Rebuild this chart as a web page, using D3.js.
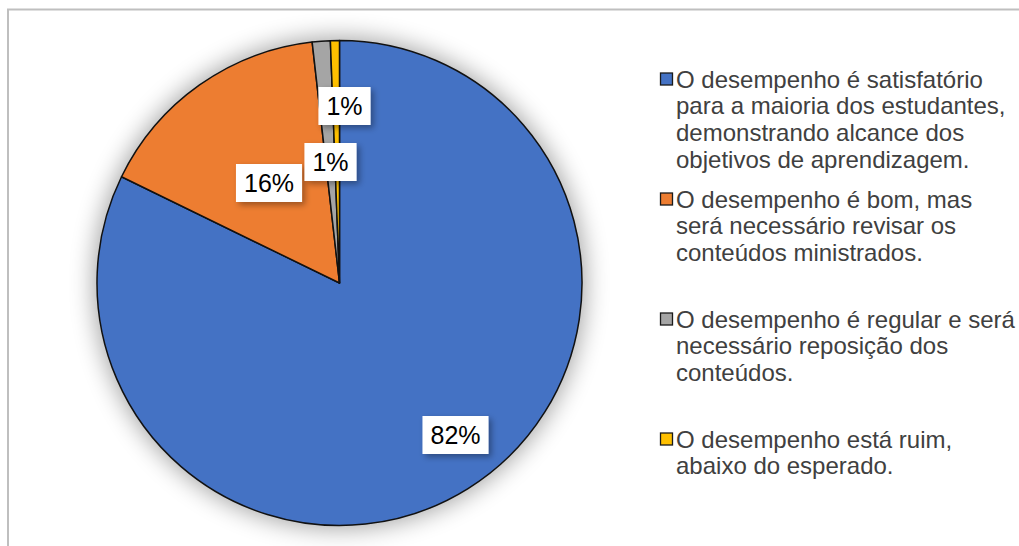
<!DOCTYPE html>
<html><head><meta charset="utf-8">
<script src="https://cdn.jsdelivr.net/npm/d3@7"></script>
<style>html,body{margin:0;padding:0;background:#fff;}svg{display:block;}</style>
</head><body>
<svg id="chart" width="1019" height="546"></svg>
<script>
const categories = [
  "O desempenho é satisfatório para a maioria dos estudantes, demonstrando alcance dos objetivos de aprendizagem.",
  "O desempenho é bom, mas será necessário revisar os conteúdos ministrados.",
  "O desempenho é regular e será necessário reposição dos conteúdos.",
  "O desempenho está ruim, abaixo do esperado."
];
const legendLines = [
  ["O desempenho é satisfatório", "para a maioria dos estudantes,", "demonstrando alcance dos", "objetivos de aprendizagem."],
  ["O desempenho é bom, mas", "será necessário revisar os", "conteúdos ministrados."],
  ["O desempenho é regular e será", "necessário reposição dos", "conteúdos."],
  ["O desempenho está ruim,", "abaixo do esperado."]
];
const values = [82.3, 16.0, 1.2, 0.6];
const valueLabels = ["82%", "16%", "1%", "1%"];
const colors = ["#4472C4", "#ED7D31", "#A5A5A5", "#FFC000"];

const svg = d3.select("#chart");
const defs = svg.append("defs");
const glow = defs.append("filter").attr("id","glow").attr("x","-30%").attr("y","-30%").attr("width","160%").attr("height","160%");
glow.append("feGaussianBlur").attr("stdDeviation", 12);
const ds = defs.append("filter").attr("id","ds").attr("x","-30%").attr("y","-30%").attr("width","160%").attr("height","160%");
ds.append("feDropShadow").attr("dx",3).attr("dy",3).attr("stdDeviation",3).attr("flood-color","#000").attr("flood-opacity",0.35);

// chart frame
svg.append("rect").attr("x",8).attr("y",9.5).attr("width",1030).attr("height",560)
  .attr("fill","none").attr("stroke","#bfbfbf").attr("stroke-width",2);

const cx = 339.5, cy = 283, r = 242.5;
const g = svg.append("g").attr("transform",`translate(${cx},${cy})`);
g.append("circle").attr("r", r+3).attr("fill","#000").attr("opacity",0.36).attr("filter","url(#glow)");

const pie = d3.pie().sort(null).value(d=>d)(values);
const arc = d3.arc().innerRadius(0).outerRadius(r);
g.selectAll("path.slice").data(pie).join("path").attr("class","slice")
  .attr("d", arc).attr("fill",(d,i)=>colors[i])
  .attr("stroke","#111").attr("stroke-width",1.5).attr("stroke-linejoin","round");

// data labels
const labelPos = [[455.5, 435], [269, 183], [330.5, 162], [344.5, 106]];
labelPos.forEach((p,i)=>{
  const lg = svg.append("g").attr("transform",`translate(${p[0]},${p[1]})`);
  const t = lg.append("text").attr("text-anchor","middle").attr("dy","0.35em")
    .attr("font-family","Liberation Sans, Arial, sans-serif").attr("font-size",25).attr("fill","#000")
    .text(valueLabels[i]);
  const bb = t.node().getBBox();
  lg.insert("rect","text").attr("x",bb.x-8).attr("y",-19).attr("width",bb.width+16).attr("height",38)
    .attr("fill","#fff").attr("filter","url(#ds)");
});

// legend
const legY = d3.scalePoint().domain(d3.range(categories.length)).range([79, 439]);
const leg = svg.append("g");
categories.forEach((c,i)=>{
  const y = legY(i);
  leg.append("rect").attr("x",660.5).attr("y",y-6).attr("width",12).attr("height",12)
    .attr("fill",colors[i]).attr("stroke","#1a1a1a").attr("stroke-width",1.3);
  const t = leg.append("text").attr("x",676).attr("y",y)
    .attr("font-family","Liberation Sans, Arial, sans-serif").attr("font-size",24).attr("fill","#404040");
  legendLines[i].forEach((ln,j)=>{
    t.append("tspan").attr("x",676).attr("dy", j===0 ? "0.36em" : 26.7).text(ln);
  });
});
</script>
</body></html>
